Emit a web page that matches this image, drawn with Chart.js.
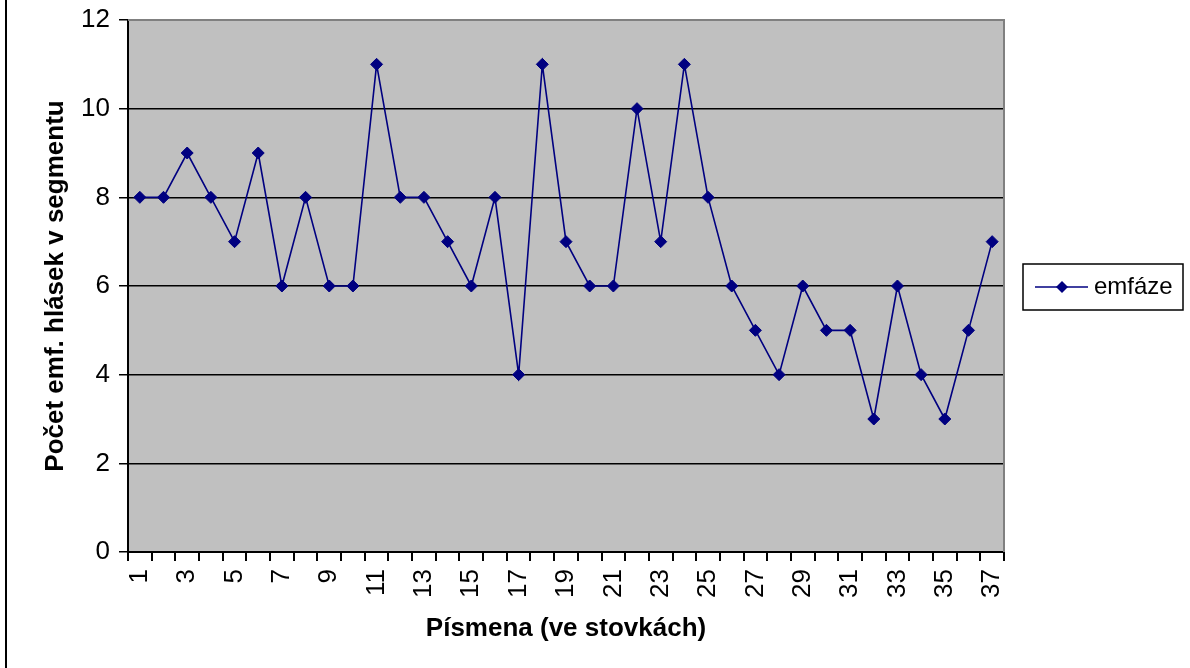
<!DOCTYPE html>
<html>
<head>
<meta charset="utf-8">
<script src="https://cdn.jsdelivr.net/npm/chart.js@4/dist/chart.umd.min.js"></script>
<style>
html,body{margin:0;padding:0;background:#fff;}
#wrap{position:relative;width:1190px;height:668px;}
</style>
</head>
<body>
<div id="wrap"><canvas id="c" width="1190" height="668"></canvas></div>
<script>
const categories = ["1","2","3","4","5","6","7","8","9","10","11","12","13","14","15","16","17","18","19","20","21","22","23","24","25","26","27","28","29","30","31","32","33","34","35","36","37"];
const emfaze = [8,8,9,8,7,9,6,8,6,6,11,8,8,7,6,8,4,11,7,6,6,10,7,11,8,6,5,4,6,5,5,3,6,4,3,5,7];
const seriesLabel = "emfáze";
const yTicks = [0,2,4,6,8,10,12];
const xTitle = "Písmena (ve stovkách)";
const yTitle = "Počet emf. hlásek v segmentu";

const FONT = "'Liberation Sans', Arial, sans-serif";
const NAVY = "#000080";

const framePlugin = {
  id: 'frame',
  beforeDraw(chart) {
    const ctx = chart.ctx;
    const a = chart.chartArea;
    ctx.save();
    ctx.fillStyle = '#fff';
    ctx.fillRect(0, 0, chart.width, chart.height);
    ctx.fillStyle = '#000';
    ctx.fillRect(5, 0, 2, chart.height);
    ctx.fillStyle = '#C0C0C0';
    ctx.fillRect(a.left, a.top, a.right - a.left, a.bottom - a.top);
    ctx.restore();
  },
  afterDraw(chart) {
    const ctx = chart.ctx;
    const a = chart.chartArea;
    ctx.save();
    ctx.strokeStyle = '#808080';
    ctx.lineWidth = 2;
    ctx.beginPath();
    ctx.moveTo(a.left, a.top);
    ctx.lineTo(a.right, a.top);
    ctx.lineTo(a.right, a.bottom);
    ctx.stroke();
    // legend
    const ds = chart.data.datasets[0];
    const bx = 1023, by = 264, bw = 160, bh = 46;
    ctx.fillStyle = '#fff';
    ctx.fillRect(bx, by, bw, bh);
    ctx.strokeStyle = '#000';
    ctx.lineWidth = 1.5;
    ctx.strokeRect(bx, by, bw, bh);
    const cy = by + bh / 2;
    ctx.strokeStyle = ds.borderColor;
    ctx.lineWidth = 1.5;
    ctx.beginPath();
    ctx.moveTo(bx + 12, cy);
    ctx.lineTo(bx + 65, cy);
    ctx.stroke();
    ctx.fillStyle = ds.borderColor;
    const mx = bx + 39, r = 6;
    ctx.beginPath();
    ctx.moveTo(mx, cy - r); ctx.lineTo(mx + r, cy); ctx.lineTo(mx, cy + r); ctx.lineTo(mx - r, cy); ctx.closePath();
    ctx.fill();
    ctx.fillStyle = '#000';
    ctx.font = "24px " + FONT;
    ctx.textBaseline = 'middle';
    ctx.textAlign = 'left';
    ctx.fillText(ds.label, bx + 71, cy);
    ctx.restore();
  }
};

new Chart(document.getElementById('c'), {
  type: 'line',
  data: {
    labels: categories,
    datasets: [{
      label: seriesLabel,
      data: emfaze,
      borderColor: NAVY,
      backgroundColor: NAVY,
      borderWidth: 1.6,
      pointStyle: 'rectRot',
      pointRadius: 6,
      pointHoverRadius: 6,
      pointBackgroundColor: NAVY,
      pointBorderColor: NAVY,
      pointBorderWidth: 1,
      tension: 0,
      fill: false
    }]
  },
  options: {
    responsive: false,
    animation: false,
    events: [],
    layout: { padding: { left: 0, right: 186, top: 20, bottom: 0 } },
    plugins: { legend: { display: false }, tooltip: { enabled: false } },
    scales: {
      x: {
        type: 'category',
        offset: true,
        afterFit(s) { s.height = 116; s.paddingLeft = 0; s.paddingRight = 0; },
        grid: { offset: true, drawOnChartArea: false, drawTicks: true, tickLength: 9, color: '#000', lineWidth: 2 },
        border: { display: true, color: '#000', width: 2 },
        ticks: {
          autoSkip: false,
          maxRotation: 90,
          minRotation: 90,
          padding: 8,
          color: '#000',
          font: { family: FONT, size: 26 },
          callback: function(v, i) { return i % 2 === 0 ? categories[i] : ''; }
        },
        title: { display: true, text: xTitle, color: '#000', font: { family: FONT, size: 26, weight: 'bold' }, padding: { top: 0, bottom: 24 } }
      },
      y: {
        min: yTicks[0],
        max: yTicks[yTicks.length - 1],
        afterFit(s) { s.width = 128; s.paddingTop = 0; s.paddingBottom = 0; },
        afterBuildTicks(s) { s.ticks = yTicks.map(v => ({ value: v })); },
        grid: { color: '#000', lineWidth: 1.5, tickLength: 9, drawTicks: true },
        border: { display: true, color: '#000', width: 2 },
        ticks: { color: '#000', padding: 9, font: { family: FONT, size: 26 } },
        title: { display: true, text: yTitle, color: '#000', font: { family: FONT, size: 26, weight: 'bold' }, padding: { top: 40, bottom: 0 } }
      }
    }
  },
  plugins: [framePlugin]
});
</script>
</body>
</html>
